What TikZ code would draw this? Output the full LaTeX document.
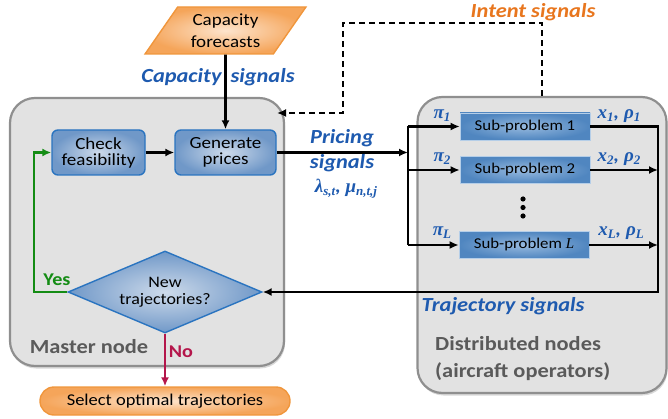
\documentclass[tikz,border=0pt]{standalone}
\usepackage{fontspec}
\setmainfont{Carlito}[FakeStretch=1.12]
\newfontfamily\mserif{Liberation Serif}
\newcommand\mv[2]{{\mserif\bfseries\itshape #1\raisebox{-0.35ex}{\fontsize{13}{13}\selectfont #2}}}
\usetikzlibrary{shapes.geometric,arrows.meta,shadows}
\definecolor{sigblue}{RGB}{30,90,175}
\definecolor{intorange}{RGB}{232,118,30}
\definecolor{panelfill}{RGB}{226,226,226}
\definecolor{panelline}{RGB}{143,143,143}
\definecolor{boxline}{RGB}{42,116,192}
\definecolor{boxout}{RGB}{112,152,200}
\definecolor{boxin}{RGB}{205,218,234}
\definecolor{subout}{RGB}{80,134,192}
\definecolor{subin}{RGB}{150,185,222}
\definecolor{orline}{RGB}{240,150,60}
\definecolor{orout}{RGB}{245,165,90}
\definecolor{orin}{RGB}{253,228,205}
\definecolor{yesgreen}{RGB}{20,140,20}
\definecolor{nored}{RGB}{180,22,75}
\definecolor{graytext}{RGB}{90,90,90}
\begin{document}
\begin{tikzpicture}[x=1pt,y=-1pt,
  panel/.style={draw=panelline, line width=2.2pt, fill=panelfill, rounded corners=25pt,
    drop shadow={shadow xshift=1pt, shadow yshift=-2.5pt, opacity=0.3}},
  procbox/.style={draw=boxline, line width=1.4pt, inner color=boxin, outer color=boxout,
    rounded corners=6pt, minimum height=45pt, align=center, font=\fontsize{17}{16}\selectfont, inner sep=0pt},
  subbox/.style={draw=subin!70!white, line width=0.6pt, inner color=subin, outer color=subout, minimum width=130pt, minimum height=27pt,
    font=\fontsize{15}{16}\selectfont, inner sep=0pt},
  sig/.style={text=sigblue, font=\fontsize{20}{24}\bfseries\itshape\selectfont, inner sep=0pt},
  mlab/.style={text=sigblue, font=\fontsize{19}{20}\bfseries\itshape\selectfont, inner sep=0pt},
  graylab/.style={text=graytext, font=\fontsize{20}{27}\bfseries\selectfont, inner sep=0pt},
  conn/.style={line width=2.6pt},
  arr/.style={line width=2.6pt, -{Latex[length=9pt,width=8pt]}},
]
\useasboundingbox (0,0) rectangle (668,419);

% panels
\node[panel, minimum width=274pt, minimum height=268pt] (master) at (147,232) {};
\node[panel, minimum width=249pt, minimum height=296pt] (dist) at (542,245) {};

% nodes
\node[trapezium, trapezium left angle=55, trapezium right angle=125, trapezium stretches=true,
  minimum width=161pt, minimum height=47pt, draw=orline, line width=1.4pt,
  inner color=orin, outer color=orout, align=center, inner sep=0pt,
  font=\fontsize{17}{22}\selectfont] (cap) at (225.5,30.5) {Capacity\\forecasts};
\node[procbox, minimum width=93pt] (check) at (98.5,152.5) {Check\\feasibility};
\node[procbox, minimum width=101pt] (gen) at (225.5,152.5) {Generate\\prices};
\node[diamond, aspect=2.37, minimum width=194pt, minimum height=82pt, inner sep=0pt,
  draw=boxline, line width=1.4pt, inner color=boxin, outer color=boxout, align=center,
  font=\fontsize{16}{17}\selectfont] (dec) at (165,292) {New\\trajectories?};
\node[draw=orline, line width=1.4pt, inner color=orin, outer color=orout, rounded corners=14pt,
  minimum width=250pt, minimum height=28pt, inner sep=0pt,
  font=\fontsize{16.5}{18}\selectfont] (sel) at (165,401) {Select optimal trajectories};
\node[subbox] (sub1) at (525,126.5) {Sub-problem 1};
\node[subbox] (sub2) at (525,170) {Sub-problem 2};
\node[subbox] (subL) at (524,245) {Sub-problem {\mserif\itshape L}};
\fill (523,199) circle (2.6pt) (523,207.5) circle (2.6pt) (523,216) circle (2.6pt);

% coordinates
\coordinate (split) at (408,152.5);
\coordinate (bt) at (408,126.5);
\coordinate (b2) at (408,170);
\coordinate (bb) at (408,245);
\coordinate (tr) at (658,126.5);
\coordinate (yl) at (34,292);
\coordinate (itop) at (343,23);
\coordinate (iend) at (277,113);

% connectors
\draw[arr] (cap.south) -- (gen.north);
\draw[arr] (check) -- (gen);
\draw[arr] (gen.east) -- (split);
\draw[conn] (bt) -- (bb);
\draw[arr] (bt) -- (sub1.west);
\draw[arr] (b2) -- (sub2.west);
\draw[arr] (bb) -- (subL.west);
\draw[arr] (sub1.east) -- (tr) |- (dec.east);
\draw[arr] (sub2.east) -- (sub2.east -| tr);
\draw[arr] (subL.east) -- (subL.east -| tr);
\draw[arr, yesgreen] (dec.west) -- (yl) |- (check.west);
\draw[arr, nored] (dec.south) -- (sel.north);
\draw[arr, dash pattern=on 6pt off 4pt] (dist.north) |- (itop) |- (iend);

% labels
\node[sig, text=intorange] (intent) at (533,12) {Intent signals};
\node[sig] (capsig) at (218,77) {Capacity\hspace{9pt}signals};
\node[sig] (pric1) at (342,138) {Pricing};
\node[sig] (pric2) at (342,163) {signals};
\node[mlab] (pric3) at (346,189) {\mv{λ}{s,t}, \mv{μ}{n,t,j}};
\node[sig] (trajsig) at (503,306) {Trajectory signals};
\node[mlab] (pi1) at (442,116) {\mv{π}{1}};
\node[mlab] (pi2) at (442,159) {\mv{π}{2}};
\node[mlab] (piL) at (442,233) {\mv{π}{L}};
\node[mlab] (xr1) at (619,116) {\mv{x}{1}, \mv{ρ}{1}};
\node[mlab] (xr2) at (619,159) {\mv{x}{2}, \mv{ρ}{2}};
\node[mlab] (xrL) at (621,233) {\mv{x}{L}, \mv{ρ}{L}};
\node[text=yesgreen, font=\fontsize{18}{20}\bfseries\selectfont, inner sep=0pt] (yes) at (57,280) {Yes};
\node[text=nored, font=\fontsize{18}{20}\bfseries\selectfont, inner sep=0pt] (no) at (181,352) {No};
\node[graylab] (mlabel) at (89,347) {Master node};
\node[graylab, anchor=west, align=left] (dlabel) at (435,358.5) {Distributed nodes\\(aircraft operators)};
\end{tikzpicture}
\end{document}
